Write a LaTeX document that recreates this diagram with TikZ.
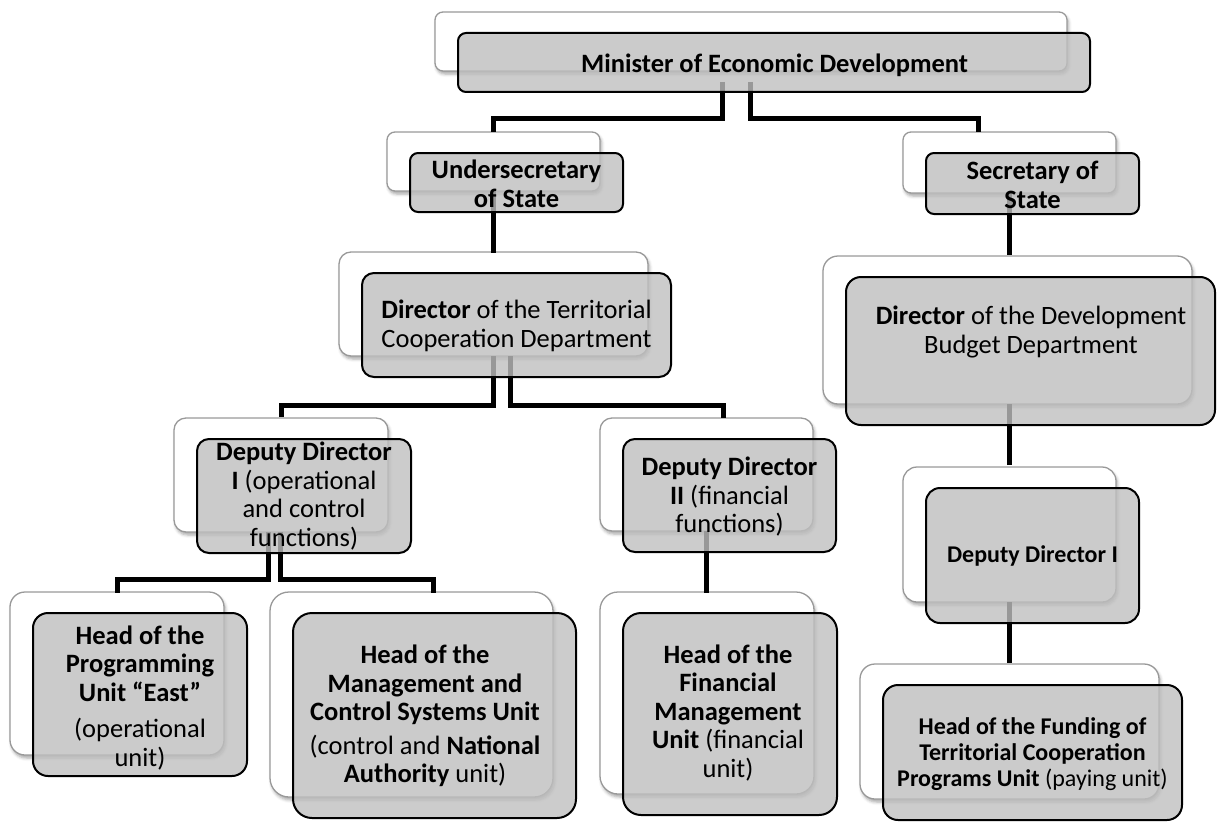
\documentclass[tikz,border=0pt]{standalone}
\usepackage{fontspec}
\setmainfont{Carlito}
\usetikzlibrary{calc,shadows.blur}
\pgfdeclarelayer{back}
\pgfdeclarelayer{conn}
\pgfsetlayers{back,conn,main}

\tikzset{
  frontbox/.style={draw=black, line width=2pt, fill=black!25, fill opacity=0.8,
    inner sep=0pt, outer sep=0pt, anchor=north west},
  backbox/.style={draw=black!40, line width=1.3pt, fill=white,
    blur shadow={shadow xshift=1.5pt, shadow yshift=-3pt, shadow blur radius=3pt, shadow opacity=35}},
  conn/.style={line width=5pt, draw=black},
  lbl/.style={align=center, text=black, font=\fontsize{26.5pt}{28.5pt}\selectfont, inner sep=0pt},
  lbls/.style={align=center, text=black, font=\fontsize{24pt}{26pt}\selectfont, inner sep=0pt},
}

\newcommand\orgbox[6]{%
  \node[frontbox, rounded corners=#6pt, minimum width=#4pt, minimum height=#5pt] (#1) at (#2,#3) {};
  \begin{pgfonlayer}{back}
    \draw[backbox, rounded corners=#6pt] ($(#1.north west)+(-23,-21)$) rectangle ($(#1.south east)+(-23,-21)$);
  \end{pgfonlayer}
}

\begin{document}
\begin{tikzpicture}[x=1pt,y=-1pt]
\useasboundingbox (0,0) rectangle (1217,824);

% front boxes (name, x, y, w, h, radius)
\orgbox{min}{458}{33}{632}{59}{8}
\orgbox{und}{410}{153}{213}{59}{8}
\orgbox{sec}{926}{153}{213}{61}{8}
\orgbox{dtc}{362}{273}{309}{104}{12}
\orgbox{ddb}{846}{277}{369}{148}{15}
\orgbox{dd1}{197}{439}{214}{114}{12}
\orgbox{dd2}{623}{439}{213}{113}{12}
\orgbox{dd1r}{926}{488}{213}{135}{14}
\orgbox{hpu}{33}{613}{214}{163}{15}
\orgbox{hmc}{293}{613}{283}{205}{19}
\orgbox{hfm}{623}{613}{214}{202}{18}
\orgbox{hft}{883}{685}{299}{135}{15}

% connectors
\begin{pgfonlayer}{conn}
\draw[conn] ($(min.south)+(-52,-10)$) |- ($(und.north)+(-23.5,-34)$) -- ($(und.north)+(-23.5,-21)$);
\draw[conn] ($(min.south)+(-24,-10)$) |- ($(sec.north)+(-54.5,-34)$) -- ($(sec.north)+(-54.5,-21)$);
\draw[conn] ($(und.south)+(-23.5,-21)$) -- ($(dtc.north)+(-23.5,-20)$);
\draw[conn] ($(sec.south)+(-23.5,-21)$) coordinate (c4) -- ($(c4 |- ddb.north)+(0,-22)$);
\draw[conn] ($(dtc.south)+(-23.5,-21)$) |- ($(dd1.north)+(-23,-34)$) -- ($(dd1.north)+(-23,-22)$);
\draw[conn] ($(dtc.south)+(-6.5,-21)$) |- ($(dd2.north)+(-6.5,-34)$) -- ($(dd2.north)+(-6.5,-21)$);
\draw[conn] ($(dd1.south)+(-36,-21)$) |- ($(hpu.north)+(-23,-34)$) -- ($(hpu.north)+(-23,-20)$);
\draw[conn] ($(dd1.south)+(-24,-21)$) |- ($(hmc.north)+(-1.5,-34)$) -- ($(hmc.north)+(-1.5,-20)$);
\draw[conn] ($(dd2.south)+(-23.5,-21)$) coordinate (c9) -- ($(c9 |- hfm.north)+(0,-20)$);
\draw[conn] ($(dd1r.north)+(-23.5,-23)$) coordinate (c10) -- ($(c10 |- ddb.south)+(0,-21)$);
\draw[conn] ($(dd1r.south)+(-23.5,-21)$) coordinate (c11) -- ($(c11 |- hft.north)+(0,-22)$);
\end{pgfonlayer}

% labels
\node[lbl, anchor=west] (tmin) at (581,65) {\textbf{Minister of Economic Development}};
\node[lbl] (tund) at (516.5,184) {\textbf{Undersecretary}\\\textbf{of State}};
\node[lbl] (tsec) at (1032.5,185) {\textbf{Secretary of}\\\textbf{State}};
\node[lbl] (tdtc) at (516.5,326) {\textbf{Director} of the Territorial\\Cooperation Department};
\node[lbl] (tddb) at (1031,332) {\textbf{Director} of the Development\\Budget Department};
\node[lbl] (tdd1) at (304,496) {\textbf{Deputy Director}\\\textbf{I} (operational\\and control\\functions)};
\node[lbl] (tdd2) at (729.5,497) {\textbf{Deputy Director}\\\textbf{II} (financial\\functions)};
\node[lbls] (tdd1r) at (1032.5,556) {\textbf{Deputy Director I}};
\node[lbl] (thpu) at (140,698) {\textbf{Head of the}\\\textbf{Programming}\\\textbf{Unit “East”}\\[8pt](operational\\unit)};
\node[lbl] (thmc) at (425,716) {\textbf{Head of the}\\\textbf{Management and}\\\textbf{Control Systems Unit}\\[5pt](control and \textbf{National}\\\textbf{Authority} unit)};
\node[lbl] (thfm) at (728,713) {\textbf{Head of the}\\\textbf{Financial}\\\textbf{Management}\\\textbf{Unit} (financial\\unit)};
\node[lbls] (thft) at (1032.5,754) {\textbf{Head of the Funding of}\\\textbf{Territorial Cooperation}\\\textbf{Programs Unit} (paying unit)};
\end{tikzpicture}
\end{document}
